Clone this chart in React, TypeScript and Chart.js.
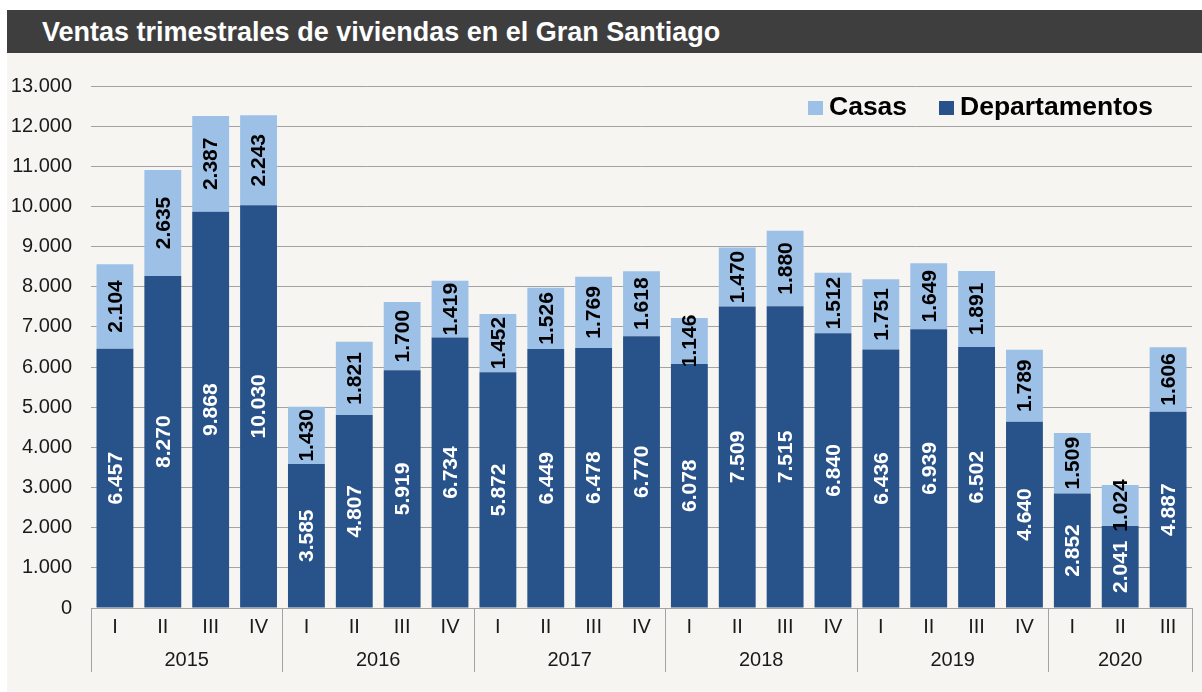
import React, { useEffect, useRef } from "react";
import { Chart, registerables } from "chart.js";

Chart.register(...registerables);

const quarters = ["I", "II", "III", "IV", "I", "II", "III", "IV", "I", "II", "III", "IV", "I", "II", "III", "IV", "I", "II", "III", "IV", "I", "II", "III"];
const years = ["2015", "2016", "2017", "2018", "2019", "2020"];
const quartersPerYear = [4, 4, 4, 4, 4, 3];
const departamentos = [6457, 8270, 9868, 10030, 3585, 4807, 5919, 6734, 5872, 6449, 6478, 6770, 6078, 7509, 7515, 6840, 6436, 6939, 6502, 4640, 2852, 2041, 4887];
const casas = [2104, 2635, 2387, 2243, 1430, 1821, 1700, 1419, 1452, 1526, 1769, 1618, 1146, 1470, 1880, 1512, 1751, 1649, 1891, 1789, 1509, 1024, 1606];
const yMax = 13000;
const yStep = 1000;

const FONT = '"Liberation Sans", Arial, Helvetica, sans-serif';
const DARK = "#28528a";
const LIGHT = "#9dc0e7";
const GRID = "#a3a3a3";
const TEXT = "#1a1a1a";

const fmt = (n: number) => Math.round(n).toString().replace(/\B(?=(\d{3})+(?!\d))/g, ".");

const dataLabelPlugin = {
  id: "dataLabels",
  afterDatasetsDraw(chart: any) {
    const ctx = chart.ctx;
    ctx.save();
    ctx.font = `bold 21px ${FONT}`;
    ctx.textAlign = "center";
    ctx.textBaseline = "middle";
    chart.data.datasets.forEach((ds: any, i: number) => {
      const meta = chart.getDatasetMeta(i);
      meta.data.forEach((el: any, j: number) => {
        const p = el.getProps(["x", "y", "base"], true);
        const cy = (p.y + p.base) / 2;
        ctx.save();
        ctx.translate(p.x, cy);
        ctx.rotate(-Math.PI / 2);
        ctx.fillStyle = i === 0 ? "#ffffff" : "#000000";
        ctx.fillText(fmt(ds.data[j]), 0, 1);
        ctx.restore();
      });
    });
    ctx.restore();
  },
};

const yearGroupPlugin = {
  id: "yearGroups",
  afterDraw(chart: any) {
    const ctx = chart.ctx;
    const xs = chart.scales.x;
    const axisY = xs.top;
    ctx.save();
    ctx.strokeStyle = GRID;
    ctx.lineWidth = 1;
    ctx.fillStyle = TEXT;
    ctx.font = `20px ${FONT}`;
    ctx.textAlign = "center";
    ctx.textBaseline = "middle";
    let idx = 0;
    const drawSep = (x: number) => {
      const xx = Math.round(x) + 0.5;
      ctx.beginPath();
      ctx.moveTo(xx, axisY);
      ctx.lineTo(xx, axisY + 64);
      ctx.stroke();
    };
    years.forEach((yr, g) => {
      const n = quartersPerYear[g];
      const left = xs.getPixelForValue(idx - 0.5);
      const right = xs.getPixelForValue(idx + n - 0.5);
      drawSep(left);
      if (g === years.length - 1) drawSep(right);
      ctx.fillText(yr, (left + right) / 2, axisY + 52);
      idx += n;
    });
    ctx.restore();
  },
};

const legendPlugin = {
  id: "customLegend",
  afterDraw(chart: any) {
    const ctx = chart.ctx;
    ctx.save();
    ctx.font = `bold 26.5px ${FONT}`;
    ctx.textBaseline = "alphabetic";
    ctx.textAlign = "left";
    const items = [
      { label: "Casas", color: LIGHT, sx: 801, tx: 822 },
      { label: "Departamentos", color: DARK, sx: 932, tx: 953 },
    ];
    items.forEach((it) => {
      ctx.fillStyle = it.color;
      ctx.fillRect(it.sx, 48, 15, 14);
      ctx.fillStyle = "#000000";
      ctx.fillText(it.label, it.tx, 62);
    });
    ctx.restore();
  },
};

function ChartView() {
  const ref = useRef<HTMLCanvasElement | null>(null);
  useEffect(() => {
    if (!ref.current) return;
    const chart = new Chart(ref.current, {
      type: "bar",
      data: {
        labels: quarters,
        datasets: [
          { label: "Departamentos", data: departamentos, backgroundColor: DARK, borderWidth: 0, barPercentage: 0.77, categoryPercentage: 1 },
          { label: "Casas", data: casas, backgroundColor: LIGHT, borderWidth: 0, barPercentage: 0.77, categoryPercentage: 1 },
        ],
      },
      options: {
        responsive: false,
        animation: false,
        events: [],
        layout: { padding: { left: 0, right: 10, top: 33, bottom: 0 } },
        plugins: { legend: { display: false }, tooltip: { enabled: false }, title: { display: false } },
        scales: {
          x: {
            stacked: true,
            grid: { display: false, drawTicks: false },
            border: { display: true, color: GRID, width: 1 },
            ticks: { color: TEXT, font: { family: FONT, size: 20 }, padding: 7, maxRotation: 0, autoSkip: false },
            afterFit: (s: any) => { s.height = 84; },
          },
          y: {
            stacked: true,
            min: 0,
            max: yMax,
            grid: { color: GRID, lineWidth: 1, drawTicks: false },
            border: { display: false },
            ticks: { stepSize: yStep, color: TEXT, font: { family: FONT, size: 20 }, padding: 19, callback: (v: any) => fmt(Number(v)) },
            afterFit: (s: any) => { s.width = 84; },
          },
        },
      },
      plugins: [dataLabelPlugin, yearGroupPlugin, legendPlugin],
    });
    return () => chart.destroy();
  }, []);
  return <canvas ref={ref} width={1195} height={639} style={{ display: "block", width: 1195, height: 639 }} />;
}

export default function App() {
  return (
    <div style={{ position: "absolute", left: 0, top: 0, width: 1202, height: 692, background: "#ffffff", overflow: "hidden" }}>
      <div
        style={{
          position: "absolute",
          left: 7,
          top: 10,
          width: 1195,
          height: 43,
          background: "#3e3e3e",
          color: "#ffffff",
          fontFamily: FONT,
          fontWeight: "bold",
          fontSize: 27,
          lineHeight: "44px",
          paddingLeft: 35,
          boxSizing: "border-box",
          whiteSpace: "nowrap",
        }}
      >
        Ventas trimestrales de viviendas en el Gran Santiago
      </div>
      <div style={{ position: "absolute", left: 7, top: 53, width: 1195, height: 639, background: "#f6f5f1" }}>
        <ChartView />
      </div>
    </div>
  );
}
